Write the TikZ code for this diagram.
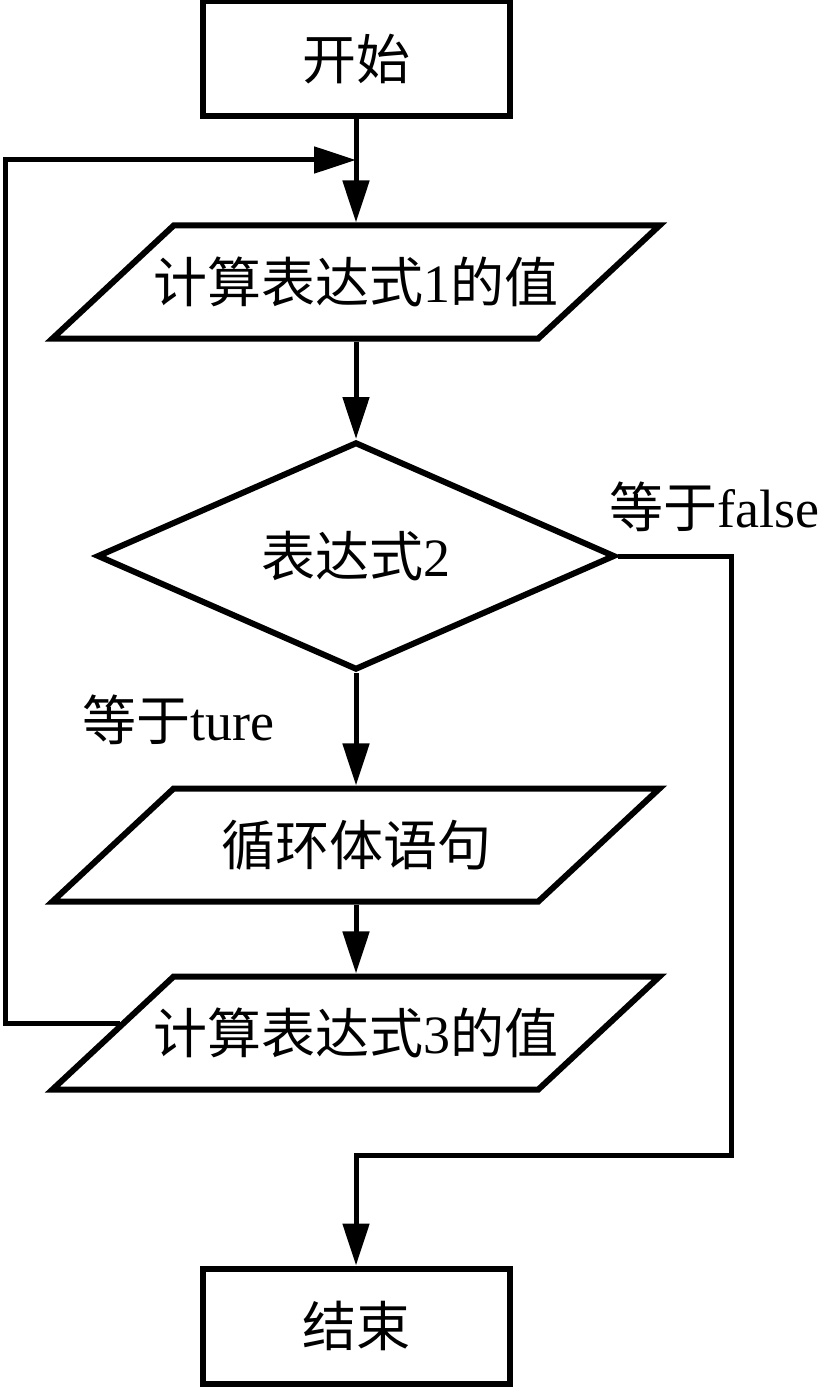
\documentclass[tikz,border=0pt]{standalone}
\usepackage{fontspec}
\setmainfont{Liberation Serif}
\newfontfamily\cjk{Noto Sans CJK SC}
\usetikzlibrary{shapes.geometric}
\usetikzlibrary{arrows.meta}
\newcommand{\zh}[1]{{\cjk #1}}
\newcommand{\nowidth}[1]{\makebox[0pt]{#1}}

\tikzset{
  termbox/.style={draw,line width=6pt,minimum width=307pt,minimum height=115pt,inner sep=0pt},
  calcbox/.style={draw,line width=6pt,trapezium,trapezium left angle=43,trapezium right angle=137,
    trapezium stretches body=true,minimum width=607pt,minimum height=113pt,
    text height=53pt,text depth=13pt,inner xsep=0pt,inner ysep=23.5pt},
  testbox/.style={draw,line width=6pt,diamond,aspect=2.27,minimum width=518pt,minimum height=228pt,inner sep=0pt},
  flow/.style={line width=5pt,-{Triangle[length=42pt,width=26pt]}},
}

\begin{document}
\begin{tikzpicture}[x=1pt,y=-1pt,font=\fontsize{54pt}{60pt}\selectfont]
  \useasboundingbox (0,0) rectangle (820,1388);

  \node[termbox] (start) at (356,59) {\zh{开始}};
  \node[calcbox] (calc1) at (356,282) {\nowidth{\zh{计算表达式}1\zh{的值}}};
  \node[testbox] (cond) at (356,556) {\zh{表达式}2};
  \node[calcbox] (body) at (356,845) {\nowidth{\zh{循环体语句}}};
  \node[calcbox] (calc3) at (356,1033) {\nowidth{\zh{计算表达式}3\zh{的值}}};
  \node[termbox] (stop) at (356,1326) {\zh{结束}};

  \node (lblF) at (714,507) {\zh{等于}false};
  \node (lblT) at (178,720) {\zh{等于}ture};

  \coordinate (loopL) at (5,160);
  \coordinate (loopR) at (356,160);
  \coordinate (fR) at (731,1155);

  \draw[flow] (start) -- (calc1);
  \draw[flow] (calc1) -- (cond);
  \draw[flow] (cond) -- (body);
  \draw[flow] (body) -- (calc3);

  % back to the top
  \draw[flow] ([shift={(11,-10)}]calc3.west) -| (loopL) -- (loopR);
  % false branch
  \draw[flow] (cond.east) -| (fR) -| (stop.north);
\end{tikzpicture}
\end{document}
